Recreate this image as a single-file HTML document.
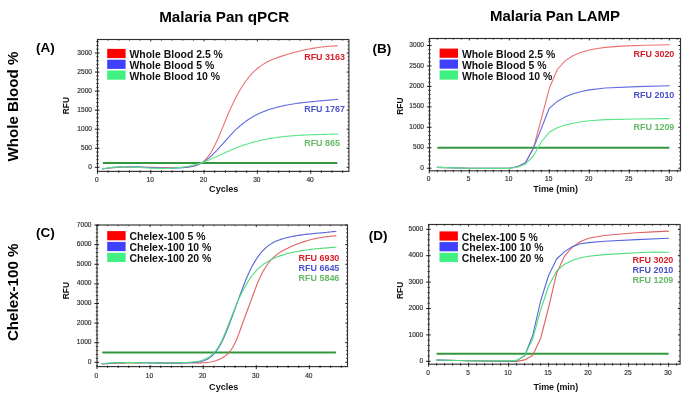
<!DOCTYPE html><html><head><meta charset="utf-8"><style>html,body{margin:0;padding:0;background:#fff;}svg{display:block;filter:blur(0.4px);}text{font-family:"Liberation Sans", sans-serif;}</style></head><body>
<svg width="685" height="396" viewBox="0 0 685 396">
<rect width="685" height="396" fill="#fff"/>
<text x="159.2" y="21.7" font-size="15.2" font-weight="bold" fill="#000">Malaria Pan qPCR</text>
<text x="490.0" y="21.1" font-size="15" font-weight="bold" fill="#000">Malaria Pan LAMP</text>
<text transform="translate(17.9,161.5) rotate(-90)" font-size="15.1" font-weight="bold" fill="#000">Whole Blood %</text>
<text transform="translate(18.3,341.1) rotate(-90)" font-size="15.15" font-weight="bold" fill="#000">Chelex-100 %</text>
<text x="36" y="52.3" font-size="13.5" font-weight="bold" fill="#000">(A)</text>
<text x="372.6" y="52.9" font-size="13.5" font-weight="bold" fill="#000">(B)</text>
<text x="36" y="237" font-size="13.5" font-weight="bold" fill="#000">(C)</text>
<text x="368.8" y="239.9" font-size="13.5" font-weight="bold" fill="#000">(D)</text>
<rect x="97.5" y="39.5" width="251.4" height="131.9" fill="none" stroke="#333" stroke-width="1.15"/>
<path d="M94.9 167.3H99.5 M346.7 167.3H348.9" stroke="#1a1a1a" stroke-width="1.0"/>
<path d="M96.3 163.49H98.7 M347.6 163.49H348.9" stroke="#2a2a2a" stroke-width="0.9"/>
<path d="M96.3 159.68H98.7 M347.6 159.68H348.9" stroke="#2a2a2a" stroke-width="0.9"/>
<path d="M96.3 155.87H98.7 M347.6 155.87H348.9" stroke="#2a2a2a" stroke-width="0.9"/>
<path d="M96.3 152.06H98.7 M347.6 152.06H348.9" stroke="#2a2a2a" stroke-width="0.9"/>
<path d="M94.9 148.25H99.5 M346.7 148.25H348.9" stroke="#1a1a1a" stroke-width="1.0"/>
<path d="M96.3 144.44H98.7 M347.6 144.44H348.9" stroke="#2a2a2a" stroke-width="0.9"/>
<path d="M96.3 140.63H98.7 M347.6 140.63H348.9" stroke="#2a2a2a" stroke-width="0.9"/>
<path d="M96.3 136.82H98.7 M347.6 136.82H348.9" stroke="#2a2a2a" stroke-width="0.9"/>
<path d="M96.3 133.01H98.7 M347.6 133.01H348.9" stroke="#2a2a2a" stroke-width="0.9"/>
<path d="M94.9 129.2H99.5 M346.7 129.2H348.9" stroke="#1a1a1a" stroke-width="1.0"/>
<path d="M96.3 125.39H98.7 M347.6 125.39H348.9" stroke="#2a2a2a" stroke-width="0.9"/>
<path d="M96.3 121.58H98.7 M347.6 121.58H348.9" stroke="#2a2a2a" stroke-width="0.9"/>
<path d="M96.3 117.77H98.7 M347.6 117.77H348.9" stroke="#2a2a2a" stroke-width="0.9"/>
<path d="M96.3 113.96H98.7 M347.6 113.96H348.9" stroke="#2a2a2a" stroke-width="0.9"/>
<path d="M94.9 110.15H99.5 M346.7 110.15H348.9" stroke="#1a1a1a" stroke-width="1.0"/>
<path d="M96.3 106.34H98.7 M347.6 106.34H348.9" stroke="#2a2a2a" stroke-width="0.9"/>
<path d="M96.3 102.53H98.7 M347.6 102.53H348.9" stroke="#2a2a2a" stroke-width="0.9"/>
<path d="M96.3 98.72H98.7 M347.6 98.72H348.9" stroke="#2a2a2a" stroke-width="0.9"/>
<path d="M96.3 94.91H98.7 M347.6 94.91H348.9" stroke="#2a2a2a" stroke-width="0.9"/>
<path d="M94.9 91.1H99.5 M346.7 91.1H348.9" stroke="#1a1a1a" stroke-width="1.0"/>
<path d="M96.3 87.29H98.7 M347.6 87.29H348.9" stroke="#2a2a2a" stroke-width="0.9"/>
<path d="M96.3 83.48H98.7 M347.6 83.48H348.9" stroke="#2a2a2a" stroke-width="0.9"/>
<path d="M96.3 79.67H98.7 M347.6 79.67H348.9" stroke="#2a2a2a" stroke-width="0.9"/>
<path d="M96.3 75.86H98.7 M347.6 75.86H348.9" stroke="#2a2a2a" stroke-width="0.9"/>
<path d="M94.9 72.05H99.5 M346.7 72.05H348.9" stroke="#1a1a1a" stroke-width="1.0"/>
<path d="M96.3 68.24H98.7 M347.6 68.24H348.9" stroke="#2a2a2a" stroke-width="0.9"/>
<path d="M96.3 64.43H98.7 M347.6 64.43H348.9" stroke="#2a2a2a" stroke-width="0.9"/>
<path d="M96.3 60.62H98.7 M347.6 60.62H348.9" stroke="#2a2a2a" stroke-width="0.9"/>
<path d="M96.3 56.81H98.7 M347.6 56.81H348.9" stroke="#2a2a2a" stroke-width="0.9"/>
<path d="M94.9 53H99.5 M346.7 53H348.9" stroke="#1a1a1a" stroke-width="1.0"/>
<path d="M96.3 49.19H98.7 M347.6 49.19H348.9" stroke="#2a2a2a" stroke-width="0.9"/>
<path d="M96.3 45.38H98.7 M347.6 45.38H348.9" stroke="#2a2a2a" stroke-width="0.9"/>
<path d="M96.3 41.57H98.7 M347.6 41.57H348.9" stroke="#2a2a2a" stroke-width="0.9"/>
<path d="M97.5 173.9V169.9 M97.5 39.5V41.5" stroke="#111" stroke-width="0.9"/>
<path d="M108.16 172.9V170.4 M108.16 39.5V40.7" stroke="#111" stroke-width="0.8"/>
<path d="M118.82 172.9V170.4 M118.82 39.5V40.7" stroke="#111" stroke-width="0.8"/>
<path d="M129.48 172.9V170.4 M129.48 39.5V40.7" stroke="#111" stroke-width="0.8"/>
<path d="M140.14 172.9V170.4 M140.14 39.5V40.7" stroke="#111" stroke-width="0.8"/>
<path d="M150.8 173.9V169.9 M150.8 39.5V41.5" stroke="#111" stroke-width="0.9"/>
<path d="M161.46 172.9V170.4 M161.46 39.5V40.7" stroke="#111" stroke-width="0.8"/>
<path d="M172.12 172.9V170.4 M172.12 39.5V40.7" stroke="#111" stroke-width="0.8"/>
<path d="M182.78 172.9V170.4 M182.78 39.5V40.7" stroke="#111" stroke-width="0.8"/>
<path d="M193.44 172.9V170.4 M193.44 39.5V40.7" stroke="#111" stroke-width="0.8"/>
<path d="M204.1 173.9V169.9 M204.1 39.5V41.5" stroke="#111" stroke-width="0.9"/>
<path d="M214.76 172.9V170.4 M214.76 39.5V40.7" stroke="#111" stroke-width="0.8"/>
<path d="M225.42 172.9V170.4 M225.42 39.5V40.7" stroke="#111" stroke-width="0.8"/>
<path d="M236.08 172.9V170.4 M236.08 39.5V40.7" stroke="#111" stroke-width="0.8"/>
<path d="M246.74 172.9V170.4 M246.74 39.5V40.7" stroke="#111" stroke-width="0.8"/>
<path d="M257.4 173.9V169.9 M257.4 39.5V41.5" stroke="#111" stroke-width="0.9"/>
<path d="M268.06 172.9V170.4 M268.06 39.5V40.7" stroke="#111" stroke-width="0.8"/>
<path d="M278.72 172.9V170.4 M278.72 39.5V40.7" stroke="#111" stroke-width="0.8"/>
<path d="M289.38 172.9V170.4 M289.38 39.5V40.7" stroke="#111" stroke-width="0.8"/>
<path d="M300.04 172.9V170.4 M300.04 39.5V40.7" stroke="#111" stroke-width="0.8"/>
<path d="M310.7 173.9V169.9 M310.7 39.5V41.5" stroke="#111" stroke-width="0.9"/>
<path d="M321.36 172.9V170.4 M321.36 39.5V40.7" stroke="#111" stroke-width="0.8"/>
<path d="M332.02 172.9V170.4 M332.02 39.5V40.7" stroke="#111" stroke-width="0.8"/>
<path d="M342.68 172.9V170.4 M342.68 39.5V40.7" stroke="#111" stroke-width="0.8"/>
<text x="92" y="168.9" font-size="6.6" fill="#2a2a2a" stroke="#2a2a2a" stroke-width="0.15" text-anchor="end">0</text>
<text x="92" y="149.85" font-size="6.6" fill="#2a2a2a" stroke="#2a2a2a" stroke-width="0.15" text-anchor="end">500</text>
<text x="92" y="130.8" font-size="6.6" fill="#2a2a2a" stroke="#2a2a2a" stroke-width="0.15" text-anchor="end">1000</text>
<text x="92" y="111.75" font-size="6.6" fill="#2a2a2a" stroke="#2a2a2a" stroke-width="0.15" text-anchor="end">1500</text>
<text x="92" y="92.7" font-size="6.6" fill="#2a2a2a" stroke="#2a2a2a" stroke-width="0.15" text-anchor="end">2000</text>
<text x="92" y="73.65" font-size="6.6" fill="#2a2a2a" stroke="#2a2a2a" stroke-width="0.15" text-anchor="end">2500</text>
<text x="92" y="54.6" font-size="6.6" fill="#2a2a2a" stroke="#2a2a2a" stroke-width="0.15" text-anchor="end">3000</text>
<text x="96.9" y="181.5" font-size="6.6" fill="#2a2a2a" stroke="#2a2a2a" stroke-width="0.15" text-anchor="middle">0</text>
<text x="150.2" y="181.5" font-size="6.6" fill="#2a2a2a" stroke="#2a2a2a" stroke-width="0.15" text-anchor="middle">10</text>
<text x="203.5" y="181.5" font-size="6.6" fill="#2a2a2a" stroke="#2a2a2a" stroke-width="0.15" text-anchor="middle">20</text>
<text x="256.8" y="181.5" font-size="6.6" fill="#2a2a2a" stroke="#2a2a2a" stroke-width="0.15" text-anchor="middle">30</text>
<text x="310.1" y="181.5" font-size="6.6" fill="#2a2a2a" stroke="#2a2a2a" stroke-width="0.15" text-anchor="middle">40</text>
<rect x="429.5" y="38.5" width="251" height="132.3" fill="none" stroke="#333" stroke-width="1.15"/>
<path d="M426.9 168.2H431.5 M678.3 168.2H680.5" stroke="#1a1a1a" stroke-width="1.0"/>
<path d="M428.3 164.11H430.7 M679.2 164.11H680.5" stroke="#2a2a2a" stroke-width="0.9"/>
<path d="M428.3 160.02H430.7 M679.2 160.02H680.5" stroke="#2a2a2a" stroke-width="0.9"/>
<path d="M428.3 155.93H430.7 M679.2 155.93H680.5" stroke="#2a2a2a" stroke-width="0.9"/>
<path d="M428.3 151.84H430.7 M679.2 151.84H680.5" stroke="#2a2a2a" stroke-width="0.9"/>
<path d="M426.9 147.75H431.5 M678.3 147.75H680.5" stroke="#1a1a1a" stroke-width="1.0"/>
<path d="M428.3 143.66H430.7 M679.2 143.66H680.5" stroke="#2a2a2a" stroke-width="0.9"/>
<path d="M428.3 139.57H430.7 M679.2 139.57H680.5" stroke="#2a2a2a" stroke-width="0.9"/>
<path d="M428.3 135.48H430.7 M679.2 135.48H680.5" stroke="#2a2a2a" stroke-width="0.9"/>
<path d="M428.3 131.39H430.7 M679.2 131.39H680.5" stroke="#2a2a2a" stroke-width="0.9"/>
<path d="M426.9 127.3H431.5 M678.3 127.3H680.5" stroke="#1a1a1a" stroke-width="1.0"/>
<path d="M428.3 123.21H430.7 M679.2 123.21H680.5" stroke="#2a2a2a" stroke-width="0.9"/>
<path d="M428.3 119.12H430.7 M679.2 119.12H680.5" stroke="#2a2a2a" stroke-width="0.9"/>
<path d="M428.3 115.03H430.7 M679.2 115.03H680.5" stroke="#2a2a2a" stroke-width="0.9"/>
<path d="M428.3 110.94H430.7 M679.2 110.94H680.5" stroke="#2a2a2a" stroke-width="0.9"/>
<path d="M426.9 106.85H431.5 M678.3 106.85H680.5" stroke="#1a1a1a" stroke-width="1.0"/>
<path d="M428.3 102.76H430.7 M679.2 102.76H680.5" stroke="#2a2a2a" stroke-width="0.9"/>
<path d="M428.3 98.67H430.7 M679.2 98.67H680.5" stroke="#2a2a2a" stroke-width="0.9"/>
<path d="M428.3 94.58H430.7 M679.2 94.58H680.5" stroke="#2a2a2a" stroke-width="0.9"/>
<path d="M428.3 90.49H430.7 M679.2 90.49H680.5" stroke="#2a2a2a" stroke-width="0.9"/>
<path d="M426.9 86.4H431.5 M678.3 86.4H680.5" stroke="#1a1a1a" stroke-width="1.0"/>
<path d="M428.3 82.31H430.7 M679.2 82.31H680.5" stroke="#2a2a2a" stroke-width="0.9"/>
<path d="M428.3 78.22H430.7 M679.2 78.22H680.5" stroke="#2a2a2a" stroke-width="0.9"/>
<path d="M428.3 74.13H430.7 M679.2 74.13H680.5" stroke="#2a2a2a" stroke-width="0.9"/>
<path d="M428.3 70.04H430.7 M679.2 70.04H680.5" stroke="#2a2a2a" stroke-width="0.9"/>
<path d="M426.9 65.95H431.5 M678.3 65.95H680.5" stroke="#1a1a1a" stroke-width="1.0"/>
<path d="M428.3 61.86H430.7 M679.2 61.86H680.5" stroke="#2a2a2a" stroke-width="0.9"/>
<path d="M428.3 57.77H430.7 M679.2 57.77H680.5" stroke="#2a2a2a" stroke-width="0.9"/>
<path d="M428.3 53.68H430.7 M679.2 53.68H680.5" stroke="#2a2a2a" stroke-width="0.9"/>
<path d="M428.3 49.59H430.7 M679.2 49.59H680.5" stroke="#2a2a2a" stroke-width="0.9"/>
<path d="M426.9 45.5H431.5 M678.3 45.5H680.5" stroke="#1a1a1a" stroke-width="1.0"/>
<path d="M428.3 41.41H430.7 M679.2 41.41H680.5" stroke="#2a2a2a" stroke-width="0.9"/>
<path d="M429.3 173.3V169.3 M429.3 38.5V40.5" stroke="#111" stroke-width="0.9"/>
<path d="M437.3 172.3V169.8 M437.3 38.5V39.7" stroke="#111" stroke-width="0.8"/>
<path d="M445.3 172.3V169.8 M445.3 38.5V39.7" stroke="#111" stroke-width="0.8"/>
<path d="M453.3 172.3V169.8 M453.3 38.5V39.7" stroke="#111" stroke-width="0.8"/>
<path d="M461.3 172.3V169.8 M461.3 38.5V39.7" stroke="#111" stroke-width="0.8"/>
<path d="M469.3 173.3V169.3 M469.3 38.5V40.5" stroke="#111" stroke-width="0.9"/>
<path d="M477.3 172.3V169.8 M477.3 38.5V39.7" stroke="#111" stroke-width="0.8"/>
<path d="M485.3 172.3V169.8 M485.3 38.5V39.7" stroke="#111" stroke-width="0.8"/>
<path d="M493.3 172.3V169.8 M493.3 38.5V39.7" stroke="#111" stroke-width="0.8"/>
<path d="M501.3 172.3V169.8 M501.3 38.5V39.7" stroke="#111" stroke-width="0.8"/>
<path d="M509.3 173.3V169.3 M509.3 38.5V40.5" stroke="#111" stroke-width="0.9"/>
<path d="M517.3 172.3V169.8 M517.3 38.5V39.7" stroke="#111" stroke-width="0.8"/>
<path d="M525.3 172.3V169.8 M525.3 38.5V39.7" stroke="#111" stroke-width="0.8"/>
<path d="M533.3 172.3V169.8 M533.3 38.5V39.7" stroke="#111" stroke-width="0.8"/>
<path d="M541.3 172.3V169.8 M541.3 38.5V39.7" stroke="#111" stroke-width="0.8"/>
<path d="M549.3 173.3V169.3 M549.3 38.5V40.5" stroke="#111" stroke-width="0.9"/>
<path d="M557.3 172.3V169.8 M557.3 38.5V39.7" stroke="#111" stroke-width="0.8"/>
<path d="M565.3 172.3V169.8 M565.3 38.5V39.7" stroke="#111" stroke-width="0.8"/>
<path d="M573.3 172.3V169.8 M573.3 38.5V39.7" stroke="#111" stroke-width="0.8"/>
<path d="M581.3 172.3V169.8 M581.3 38.5V39.7" stroke="#111" stroke-width="0.8"/>
<path d="M589.3 173.3V169.3 M589.3 38.5V40.5" stroke="#111" stroke-width="0.9"/>
<path d="M597.3 172.3V169.8 M597.3 38.5V39.7" stroke="#111" stroke-width="0.8"/>
<path d="M605.3 172.3V169.8 M605.3 38.5V39.7" stroke="#111" stroke-width="0.8"/>
<path d="M613.3 172.3V169.8 M613.3 38.5V39.7" stroke="#111" stroke-width="0.8"/>
<path d="M621.3 172.3V169.8 M621.3 38.5V39.7" stroke="#111" stroke-width="0.8"/>
<path d="M629.3 173.3V169.3 M629.3 38.5V40.5" stroke="#111" stroke-width="0.9"/>
<path d="M637.3 172.3V169.8 M637.3 38.5V39.7" stroke="#111" stroke-width="0.8"/>
<path d="M645.3 172.3V169.8 M645.3 38.5V39.7" stroke="#111" stroke-width="0.8"/>
<path d="M653.3 172.3V169.8 M653.3 38.5V39.7" stroke="#111" stroke-width="0.8"/>
<path d="M661.3 172.3V169.8 M661.3 38.5V39.7" stroke="#111" stroke-width="0.8"/>
<path d="M669.3 173.3V169.3 M669.3 38.5V40.5" stroke="#111" stroke-width="0.9"/>
<path d="M677.3 172.3V169.8 M677.3 38.5V39.7" stroke="#111" stroke-width="0.8"/>
<text x="424" y="169.8" font-size="6.6" fill="#2a2a2a" stroke="#2a2a2a" stroke-width="0.15" text-anchor="end">0</text>
<text x="424" y="149.35" font-size="6.6" fill="#2a2a2a" stroke="#2a2a2a" stroke-width="0.15" text-anchor="end">500</text>
<text x="424" y="128.9" font-size="6.6" fill="#2a2a2a" stroke="#2a2a2a" stroke-width="0.15" text-anchor="end">1000</text>
<text x="424" y="108.45" font-size="6.6" fill="#2a2a2a" stroke="#2a2a2a" stroke-width="0.15" text-anchor="end">1500</text>
<text x="424" y="88" font-size="6.6" fill="#2a2a2a" stroke="#2a2a2a" stroke-width="0.15" text-anchor="end">2000</text>
<text x="424" y="67.55" font-size="6.6" fill="#2a2a2a" stroke="#2a2a2a" stroke-width="0.15" text-anchor="end">2500</text>
<text x="424" y="47.1" font-size="6.6" fill="#2a2a2a" stroke="#2a2a2a" stroke-width="0.15" text-anchor="end">3000</text>
<text x="428.7" y="181.4" font-size="6.6" fill="#2a2a2a" stroke="#2a2a2a" stroke-width="0.15" text-anchor="middle">0</text>
<text x="468.7" y="181.4" font-size="6.6" fill="#2a2a2a" stroke="#2a2a2a" stroke-width="0.15" text-anchor="middle">5</text>
<text x="508.7" y="181.4" font-size="6.6" fill="#2a2a2a" stroke="#2a2a2a" stroke-width="0.15" text-anchor="middle">10</text>
<text x="548.7" y="181.4" font-size="6.6" fill="#2a2a2a" stroke="#2a2a2a" stroke-width="0.15" text-anchor="middle">15</text>
<text x="588.7" y="181.4" font-size="6.6" fill="#2a2a2a" stroke="#2a2a2a" stroke-width="0.15" text-anchor="middle">20</text>
<text x="628.7" y="181.4" font-size="6.6" fill="#2a2a2a" stroke="#2a2a2a" stroke-width="0.15" text-anchor="middle">25</text>
<text x="668.7" y="181.4" font-size="6.6" fill="#2a2a2a" stroke="#2a2a2a" stroke-width="0.15" text-anchor="middle">30</text>
<rect x="97" y="225" width="250.5" height="141.6" fill="none" stroke="#333" stroke-width="1.15"/>
<path d="M94.4 362.3H99 M345.3 362.3H347.5" stroke="#1a1a1a" stroke-width="1.0"/>
<path d="M95.8 358.38H98.2 M346.2 358.38H347.5" stroke="#2a2a2a" stroke-width="0.9"/>
<path d="M95.8 354.46H98.2 M346.2 354.46H347.5" stroke="#2a2a2a" stroke-width="0.9"/>
<path d="M95.8 350.53H98.2 M346.2 350.53H347.5" stroke="#2a2a2a" stroke-width="0.9"/>
<path d="M95.8 346.61H98.2 M346.2 346.61H347.5" stroke="#2a2a2a" stroke-width="0.9"/>
<path d="M94.4 342.69H99 M345.3 342.69H347.5" stroke="#1a1a1a" stroke-width="1.0"/>
<path d="M95.8 338.77H98.2 M346.2 338.77H347.5" stroke="#2a2a2a" stroke-width="0.9"/>
<path d="M95.8 334.85H98.2 M346.2 334.85H347.5" stroke="#2a2a2a" stroke-width="0.9"/>
<path d="M95.8 330.92H98.2 M346.2 330.92H347.5" stroke="#2a2a2a" stroke-width="0.9"/>
<path d="M95.8 327H98.2 M346.2 327H347.5" stroke="#2a2a2a" stroke-width="0.9"/>
<path d="M94.4 323.08H99 M345.3 323.08H347.5" stroke="#1a1a1a" stroke-width="1.0"/>
<path d="M95.8 319.16H98.2 M346.2 319.16H347.5" stroke="#2a2a2a" stroke-width="0.9"/>
<path d="M95.8 315.24H98.2 M346.2 315.24H347.5" stroke="#2a2a2a" stroke-width="0.9"/>
<path d="M95.8 311.31H98.2 M346.2 311.31H347.5" stroke="#2a2a2a" stroke-width="0.9"/>
<path d="M95.8 307.39H98.2 M346.2 307.39H347.5" stroke="#2a2a2a" stroke-width="0.9"/>
<path d="M94.4 303.47H99 M345.3 303.47H347.5" stroke="#1a1a1a" stroke-width="1.0"/>
<path d="M95.8 299.55H98.2 M346.2 299.55H347.5" stroke="#2a2a2a" stroke-width="0.9"/>
<path d="M95.8 295.63H98.2 M346.2 295.63H347.5" stroke="#2a2a2a" stroke-width="0.9"/>
<path d="M95.8 291.7H98.2 M346.2 291.7H347.5" stroke="#2a2a2a" stroke-width="0.9"/>
<path d="M95.8 287.78H98.2 M346.2 287.78H347.5" stroke="#2a2a2a" stroke-width="0.9"/>
<path d="M94.4 283.86H99 M345.3 283.86H347.5" stroke="#1a1a1a" stroke-width="1.0"/>
<path d="M95.8 279.94H98.2 M346.2 279.94H347.5" stroke="#2a2a2a" stroke-width="0.9"/>
<path d="M95.8 276.02H98.2 M346.2 276.02H347.5" stroke="#2a2a2a" stroke-width="0.9"/>
<path d="M95.8 272.09H98.2 M346.2 272.09H347.5" stroke="#2a2a2a" stroke-width="0.9"/>
<path d="M95.8 268.17H98.2 M346.2 268.17H347.5" stroke="#2a2a2a" stroke-width="0.9"/>
<path d="M94.4 264.25H99 M345.3 264.25H347.5" stroke="#1a1a1a" stroke-width="1.0"/>
<path d="M95.8 260.33H98.2 M346.2 260.33H347.5" stroke="#2a2a2a" stroke-width="0.9"/>
<path d="M95.8 256.41H98.2 M346.2 256.41H347.5" stroke="#2a2a2a" stroke-width="0.9"/>
<path d="M95.8 252.48H98.2 M346.2 252.48H347.5" stroke="#2a2a2a" stroke-width="0.9"/>
<path d="M95.8 248.56H98.2 M346.2 248.56H347.5" stroke="#2a2a2a" stroke-width="0.9"/>
<path d="M94.4 244.64H99 M345.3 244.64H347.5" stroke="#1a1a1a" stroke-width="1.0"/>
<path d="M95.8 240.72H98.2 M346.2 240.72H347.5" stroke="#2a2a2a" stroke-width="0.9"/>
<path d="M95.8 236.8H98.2 M346.2 236.8H347.5" stroke="#2a2a2a" stroke-width="0.9"/>
<path d="M95.8 232.87H98.2 M346.2 232.87H347.5" stroke="#2a2a2a" stroke-width="0.9"/>
<path d="M95.8 228.95H98.2 M346.2 228.95H347.5" stroke="#2a2a2a" stroke-width="0.9"/>
<path d="M94.4 225.03H99 M345.3 225.03H347.5" stroke="#1a1a1a" stroke-width="1.0"/>
<path d="M97 369.1V365.1 M97 225V227" stroke="#111" stroke-width="0.9"/>
<path d="M107.62 368.1V365.6 M107.62 225V226.2" stroke="#111" stroke-width="0.8"/>
<path d="M118.24 368.1V365.6 M118.24 225V226.2" stroke="#111" stroke-width="0.8"/>
<path d="M128.86 368.1V365.6 M128.86 225V226.2" stroke="#111" stroke-width="0.8"/>
<path d="M139.48 368.1V365.6 M139.48 225V226.2" stroke="#111" stroke-width="0.8"/>
<path d="M150.1 369.1V365.1 M150.1 225V227" stroke="#111" stroke-width="0.9"/>
<path d="M160.72 368.1V365.6 M160.72 225V226.2" stroke="#111" stroke-width="0.8"/>
<path d="M171.34 368.1V365.6 M171.34 225V226.2" stroke="#111" stroke-width="0.8"/>
<path d="M181.96 368.1V365.6 M181.96 225V226.2" stroke="#111" stroke-width="0.8"/>
<path d="M192.58 368.1V365.6 M192.58 225V226.2" stroke="#111" stroke-width="0.8"/>
<path d="M203.2 369.1V365.1 M203.2 225V227" stroke="#111" stroke-width="0.9"/>
<path d="M213.82 368.1V365.6 M213.82 225V226.2" stroke="#111" stroke-width="0.8"/>
<path d="M224.44 368.1V365.6 M224.44 225V226.2" stroke="#111" stroke-width="0.8"/>
<path d="M235.06 368.1V365.6 M235.06 225V226.2" stroke="#111" stroke-width="0.8"/>
<path d="M245.68 368.1V365.6 M245.68 225V226.2" stroke="#111" stroke-width="0.8"/>
<path d="M256.3 369.1V365.1 M256.3 225V227" stroke="#111" stroke-width="0.9"/>
<path d="M266.92 368.1V365.6 M266.92 225V226.2" stroke="#111" stroke-width="0.8"/>
<path d="M277.54 368.1V365.6 M277.54 225V226.2" stroke="#111" stroke-width="0.8"/>
<path d="M288.16 368.1V365.6 M288.16 225V226.2" stroke="#111" stroke-width="0.8"/>
<path d="M298.78 368.1V365.6 M298.78 225V226.2" stroke="#111" stroke-width="0.8"/>
<path d="M309.4 369.1V365.1 M309.4 225V227" stroke="#111" stroke-width="0.9"/>
<path d="M320.02 368.1V365.6 M320.02 225V226.2" stroke="#111" stroke-width="0.8"/>
<path d="M330.64 368.1V365.6 M330.64 225V226.2" stroke="#111" stroke-width="0.8"/>
<path d="M341.26 368.1V365.6 M341.26 225V226.2" stroke="#111" stroke-width="0.8"/>
<text x="91.5" y="363.9" font-size="6.6" fill="#2a2a2a" stroke="#2a2a2a" stroke-width="0.15" text-anchor="end">0</text>
<text x="91.5" y="344.29" font-size="6.6" fill="#2a2a2a" stroke="#2a2a2a" stroke-width="0.15" text-anchor="end">1000</text>
<text x="91.5" y="324.68" font-size="6.6" fill="#2a2a2a" stroke="#2a2a2a" stroke-width="0.15" text-anchor="end">2000</text>
<text x="91.5" y="305.07" font-size="6.6" fill="#2a2a2a" stroke="#2a2a2a" stroke-width="0.15" text-anchor="end">3000</text>
<text x="91.5" y="285.46" font-size="6.6" fill="#2a2a2a" stroke="#2a2a2a" stroke-width="0.15" text-anchor="end">4000</text>
<text x="91.5" y="265.85" font-size="6.6" fill="#2a2a2a" stroke="#2a2a2a" stroke-width="0.15" text-anchor="end">5000</text>
<text x="91.5" y="246.24" font-size="6.6" fill="#2a2a2a" stroke="#2a2a2a" stroke-width="0.15" text-anchor="end">6000</text>
<text x="91.5" y="226.63" font-size="6.6" fill="#2a2a2a" stroke="#2a2a2a" stroke-width="0.15" text-anchor="end">7000</text>
<text x="96.4" y="378" font-size="6.6" fill="#2a2a2a" stroke="#2a2a2a" stroke-width="0.15" text-anchor="middle">0</text>
<text x="149.5" y="378" font-size="6.6" fill="#2a2a2a" stroke="#2a2a2a" stroke-width="0.15" text-anchor="middle">10</text>
<text x="202.6" y="378" font-size="6.6" fill="#2a2a2a" stroke="#2a2a2a" stroke-width="0.15" text-anchor="middle">20</text>
<text x="255.7" y="378" font-size="6.6" fill="#2a2a2a" stroke="#2a2a2a" stroke-width="0.15" text-anchor="middle">30</text>
<text x="308.8" y="378" font-size="6.6" fill="#2a2a2a" stroke="#2a2a2a" stroke-width="0.15" text-anchor="middle">40</text>
<rect x="428.7" y="224.5" width="251.4" height="139.7" fill="none" stroke="#333" stroke-width="1.15"/>
<path d="M426.1 361.3H430.7 M677.9 361.3H680.1" stroke="#1a1a1a" stroke-width="1.0"/>
<path d="M427.5 356.02H429.9 M678.8 356.02H680.1" stroke="#2a2a2a" stroke-width="0.9"/>
<path d="M427.5 350.74H429.9 M678.8 350.74H680.1" stroke="#2a2a2a" stroke-width="0.9"/>
<path d="M427.5 345.46H429.9 M678.8 345.46H680.1" stroke="#2a2a2a" stroke-width="0.9"/>
<path d="M427.5 340.18H429.9 M678.8 340.18H680.1" stroke="#2a2a2a" stroke-width="0.9"/>
<path d="M426.1 334.9H430.7 M677.9 334.9H680.1" stroke="#1a1a1a" stroke-width="1.0"/>
<path d="M427.5 329.62H429.9 M678.8 329.62H680.1" stroke="#2a2a2a" stroke-width="0.9"/>
<path d="M427.5 324.34H429.9 M678.8 324.34H680.1" stroke="#2a2a2a" stroke-width="0.9"/>
<path d="M427.5 319.06H429.9 M678.8 319.06H680.1" stroke="#2a2a2a" stroke-width="0.9"/>
<path d="M427.5 313.78H429.9 M678.8 313.78H680.1" stroke="#2a2a2a" stroke-width="0.9"/>
<path d="M426.1 308.5H430.7 M677.9 308.5H680.1" stroke="#1a1a1a" stroke-width="1.0"/>
<path d="M427.5 303.22H429.9 M678.8 303.22H680.1" stroke="#2a2a2a" stroke-width="0.9"/>
<path d="M427.5 297.94H429.9 M678.8 297.94H680.1" stroke="#2a2a2a" stroke-width="0.9"/>
<path d="M427.5 292.66H429.9 M678.8 292.66H680.1" stroke="#2a2a2a" stroke-width="0.9"/>
<path d="M427.5 287.38H429.9 M678.8 287.38H680.1" stroke="#2a2a2a" stroke-width="0.9"/>
<path d="M426.1 282.1H430.7 M677.9 282.1H680.1" stroke="#1a1a1a" stroke-width="1.0"/>
<path d="M427.5 276.82H429.9 M678.8 276.82H680.1" stroke="#2a2a2a" stroke-width="0.9"/>
<path d="M427.5 271.54H429.9 M678.8 271.54H680.1" stroke="#2a2a2a" stroke-width="0.9"/>
<path d="M427.5 266.26H429.9 M678.8 266.26H680.1" stroke="#2a2a2a" stroke-width="0.9"/>
<path d="M427.5 260.98H429.9 M678.8 260.98H680.1" stroke="#2a2a2a" stroke-width="0.9"/>
<path d="M426.1 255.7H430.7 M677.9 255.7H680.1" stroke="#1a1a1a" stroke-width="1.0"/>
<path d="M427.5 250.42H429.9 M678.8 250.42H680.1" stroke="#2a2a2a" stroke-width="0.9"/>
<path d="M427.5 245.14H429.9 M678.8 245.14H680.1" stroke="#2a2a2a" stroke-width="0.9"/>
<path d="M427.5 239.86H429.9 M678.8 239.86H680.1" stroke="#2a2a2a" stroke-width="0.9"/>
<path d="M427.5 234.58H429.9 M678.8 234.58H680.1" stroke="#2a2a2a" stroke-width="0.9"/>
<path d="M426.1 229.3H430.7 M677.9 229.3H680.1" stroke="#1a1a1a" stroke-width="1.0"/>
<path d="M428.6 366.7V362.7 M428.6 224.5V226.5" stroke="#111" stroke-width="0.9"/>
<path d="M436.6 365.7V363.2 M436.6 224.5V225.7" stroke="#111" stroke-width="0.8"/>
<path d="M444.6 365.7V363.2 M444.6 224.5V225.7" stroke="#111" stroke-width="0.8"/>
<path d="M452.6 365.7V363.2 M452.6 224.5V225.7" stroke="#111" stroke-width="0.8"/>
<path d="M460.6 365.7V363.2 M460.6 224.5V225.7" stroke="#111" stroke-width="0.8"/>
<path d="M468.6 366.7V362.7 M468.6 224.5V226.5" stroke="#111" stroke-width="0.9"/>
<path d="M476.6 365.7V363.2 M476.6 224.5V225.7" stroke="#111" stroke-width="0.8"/>
<path d="M484.6 365.7V363.2 M484.6 224.5V225.7" stroke="#111" stroke-width="0.8"/>
<path d="M492.6 365.7V363.2 M492.6 224.5V225.7" stroke="#111" stroke-width="0.8"/>
<path d="M500.6 365.7V363.2 M500.6 224.5V225.7" stroke="#111" stroke-width="0.8"/>
<path d="M508.6 366.7V362.7 M508.6 224.5V226.5" stroke="#111" stroke-width="0.9"/>
<path d="M516.6 365.7V363.2 M516.6 224.5V225.7" stroke="#111" stroke-width="0.8"/>
<path d="M524.6 365.7V363.2 M524.6 224.5V225.7" stroke="#111" stroke-width="0.8"/>
<path d="M532.6 365.7V363.2 M532.6 224.5V225.7" stroke="#111" stroke-width="0.8"/>
<path d="M540.6 365.7V363.2 M540.6 224.5V225.7" stroke="#111" stroke-width="0.8"/>
<path d="M548.6 366.7V362.7 M548.6 224.5V226.5" stroke="#111" stroke-width="0.9"/>
<path d="M556.6 365.7V363.2 M556.6 224.5V225.7" stroke="#111" stroke-width="0.8"/>
<path d="M564.6 365.7V363.2 M564.6 224.5V225.7" stroke="#111" stroke-width="0.8"/>
<path d="M572.6 365.7V363.2 M572.6 224.5V225.7" stroke="#111" stroke-width="0.8"/>
<path d="M580.6 365.7V363.2 M580.6 224.5V225.7" stroke="#111" stroke-width="0.8"/>
<path d="M588.6 366.7V362.7 M588.6 224.5V226.5" stroke="#111" stroke-width="0.9"/>
<path d="M596.6 365.7V363.2 M596.6 224.5V225.7" stroke="#111" stroke-width="0.8"/>
<path d="M604.6 365.7V363.2 M604.6 224.5V225.7" stroke="#111" stroke-width="0.8"/>
<path d="M612.6 365.7V363.2 M612.6 224.5V225.7" stroke="#111" stroke-width="0.8"/>
<path d="M620.6 365.7V363.2 M620.6 224.5V225.7" stroke="#111" stroke-width="0.8"/>
<path d="M628.6 366.7V362.7 M628.6 224.5V226.5" stroke="#111" stroke-width="0.9"/>
<path d="M636.6 365.7V363.2 M636.6 224.5V225.7" stroke="#111" stroke-width="0.8"/>
<path d="M644.6 365.7V363.2 M644.6 224.5V225.7" stroke="#111" stroke-width="0.8"/>
<path d="M652.6 365.7V363.2 M652.6 224.5V225.7" stroke="#111" stroke-width="0.8"/>
<path d="M660.6 365.7V363.2 M660.6 224.5V225.7" stroke="#111" stroke-width="0.8"/>
<path d="M668.6 366.7V362.7 M668.6 224.5V226.5" stroke="#111" stroke-width="0.9"/>
<path d="M676.6 365.7V363.2 M676.6 224.5V225.7" stroke="#111" stroke-width="0.8"/>
<text x="423.2" y="362.9" font-size="6.6" fill="#2a2a2a" stroke="#2a2a2a" stroke-width="0.15" text-anchor="end">0</text>
<text x="423.2" y="336.5" font-size="6.6" fill="#2a2a2a" stroke="#2a2a2a" stroke-width="0.15" text-anchor="end">1000</text>
<text x="423.2" y="310.1" font-size="6.6" fill="#2a2a2a" stroke="#2a2a2a" stroke-width="0.15" text-anchor="end">2000</text>
<text x="423.2" y="283.7" font-size="6.6" fill="#2a2a2a" stroke="#2a2a2a" stroke-width="0.15" text-anchor="end">3000</text>
<text x="423.2" y="257.3" font-size="6.6" fill="#2a2a2a" stroke="#2a2a2a" stroke-width="0.15" text-anchor="end">4000</text>
<text x="423.2" y="230.9" font-size="6.6" fill="#2a2a2a" stroke="#2a2a2a" stroke-width="0.15" text-anchor="end">5000</text>
<text x="428" y="375.2" font-size="6.6" fill="#2a2a2a" stroke="#2a2a2a" stroke-width="0.15" text-anchor="middle">0</text>
<text x="468" y="375.2" font-size="6.6" fill="#2a2a2a" stroke="#2a2a2a" stroke-width="0.15" text-anchor="middle">5</text>
<text x="508" y="375.2" font-size="6.6" fill="#2a2a2a" stroke="#2a2a2a" stroke-width="0.15" text-anchor="middle">10</text>
<text x="548" y="375.2" font-size="6.6" fill="#2a2a2a" stroke="#2a2a2a" stroke-width="0.15" text-anchor="middle">15</text>
<text x="588" y="375.2" font-size="6.6" fill="#2a2a2a" stroke="#2a2a2a" stroke-width="0.15" text-anchor="middle">20</text>
<text x="628" y="375.2" font-size="6.6" fill="#2a2a2a" stroke="#2a2a2a" stroke-width="0.15" text-anchor="middle">25</text>
<text x="668" y="375.2" font-size="6.6" fill="#2a2a2a" stroke="#2a2a2a" stroke-width="0.15" text-anchor="middle">30</text>
<text transform="translate(69.3,114.3) rotate(-90) scale(0.86,1)" font-size="9.8" font-weight="bold" fill="#111">RFU</text>
<text transform="translate(402.8,114.8) rotate(-90) scale(0.86,1)" font-size="9.8" font-weight="bold" fill="#111">RFU</text>
<text transform="translate(69.3,299.3) rotate(-90) scale(0.86,1)" font-size="9.8" font-weight="bold" fill="#111">RFU</text>
<text transform="translate(402.8,299.0) rotate(-90) scale(0.86,1)" font-size="9.8" font-weight="bold" fill="#111">RFU</text>
<text x="209.1" y="192" font-size="9.1" font-weight="bold" fill="#111">Cycles</text>
<text x="533.2" y="192.2" font-size="8.9" font-weight="bold" fill="#111">Time (min)</text>
<text x="209.1" y="389.8" font-size="9.1" font-weight="bold" fill="#111">Cycles</text>
<text x="533.5" y="389.8" font-size="8.9" font-weight="bold" fill="#111">Time (min)</text>
<rect x="107.2" y="48.9" width="18.4" height="9.2" fill="#ff0000"/>
<text x="129.5" y="58.1" font-size="10.45" font-weight="bold" fill="#111">Whole Blood 2.5 %</text>
<rect x="107.2" y="59.7" width="18.4" height="9.2" fill="#4040ff"/>
<text x="129.5" y="68.9" font-size="10.45" font-weight="bold" fill="#111">Whole Blood 5 %</text>
<rect x="107.2" y="70.5" width="18.4" height="9.2" fill="#40f080"/>
<text x="129.5" y="79.7" font-size="10.45" font-weight="bold" fill="#111">Whole Blood 10 %</text>
<rect x="439.6" y="48.6" width="18.4" height="9.2" fill="#ff0000"/>
<text x="461.9" y="57.8" font-size="10.45" font-weight="bold" fill="#111">Whole Blood 2.5 %</text>
<rect x="439.6" y="59.5" width="18.4" height="9.2" fill="#4040ff"/>
<text x="461.9" y="68.7" font-size="10.45" font-weight="bold" fill="#111">Whole Blood 5 %</text>
<rect x="439.6" y="70.4" width="18.4" height="9.2" fill="#40f080"/>
<text x="461.9" y="79.6" font-size="10.45" font-weight="bold" fill="#111">Whole Blood 10 %</text>
<rect x="107.2" y="231.1" width="18.4" height="9.2" fill="#ff0000"/>
<text x="129.5" y="240.3" font-size="10.45" font-weight="bold" fill="#111">Chelex-100 5 %</text>
<rect x="107.2" y="241.9" width="18.4" height="9.2" fill="#4040ff"/>
<text x="129.5" y="251.1" font-size="10.45" font-weight="bold" fill="#111">Chelex-100 10 %</text>
<rect x="107.2" y="252.8" width="18.4" height="9.2" fill="#40f080"/>
<text x="129.5" y="262" font-size="10.45" font-weight="bold" fill="#111">Chelex-100 20 %</text>
<rect x="439.5" y="231.4" width="18.4" height="9.2" fill="#ff0000"/>
<text x="461.8" y="240.6" font-size="10.45" font-weight="bold" fill="#111">Chelex-100 5 %</text>
<rect x="439.5" y="242.1" width="18.4" height="9.2" fill="#4040ff"/>
<text x="461.8" y="251.3" font-size="10.45" font-weight="bold" fill="#111">Chelex-100 10 %</text>
<rect x="439.5" y="252.8" width="18.4" height="9.2" fill="#40f080"/>
<text x="461.8" y="262" font-size="10.45" font-weight="bold" fill="#111">Chelex-100 20 %</text>
<text x="304.2" y="59.6" font-size="8.95" font-weight="bold" fill="#d81e28">RFU 3163</text>
<text x="304.2" y="112.4" font-size="8.95" font-weight="bold" fill="#4a52cc">RFU 1767</text>
<text x="304.2" y="146.1" font-size="8.95" font-weight="bold" fill="#66b866">RFU 865</text>
<text x="633.6" y="56.9" font-size="8.95" font-weight="bold" fill="#d81e28">RFU 3020</text>
<text x="633.6" y="97.7" font-size="8.95" font-weight="bold" fill="#4a52cc">RFU 2010</text>
<text x="633.6" y="129.5" font-size="8.95" font-weight="bold" fill="#66b866">RFU 1209</text>
<text x="298.6" y="260.6" font-size="8.95" font-weight="bold" fill="#d81e28">RFU 6930</text>
<text x="298.6" y="270.7" font-size="8.95" font-weight="bold" fill="#4a52cc">RFU 6645</text>
<text x="298.6" y="280.7" font-size="8.95" font-weight="bold" fill="#66b866">RFU 5846</text>
<text x="632.6" y="262.7" font-size="8.95" font-weight="bold" fill="#d81e28">RFU 3020</text>
<text x="632.6" y="272.8" font-size="8.95" font-weight="bold" fill="#4a52cc">RFU 2010</text>
<text x="632.6" y="282.8" font-size="8.95" font-weight="bold" fill="#66b866">RFU 1209</text>
<path d="M102.83 163.1H337.35" stroke="#359640" stroke-width="2"/>
<path d="M437.3 147.8H669.3" stroke="#359640" stroke-width="2"/>
<path d="M102.31 352.5H335.95" stroke="#359640" stroke-width="2"/>
<path d="M436.6 353.8H668.6" stroke="#359640" stroke-width="2"/>
<path d="M102.6 168.79 L104.1 168.61 L105.6 168.44 L107.1 168.28 L108.6 168.13 L110.1 167.99 L111.6 167.87 L113.1 167.76 L114.6 167.66 L116.1 167.56 L117.6 167.48 L119.1 167.41 L120.6 167.34 L122.1 167.29 L123.6 167.24 L125.1 167.2 L126.6 167.16 L128.1 167.14 L129.6 167.12 L131.1 167.1 L132.6 167.1 L134.1 167.09 L135.6 167.1 L137.1 167.1 L138.6 167.11 L140.1 167.13 L141.6 167.14 L143.1 167.16 L144.6 167.19 L146.1 167.21 L147.6 167.24 L149.1 167.27 L150.6 167.3 L152.1 167.32 L153.6 167.35 L155.1 167.38 L156.6 167.41 L158.1 167.44 L159.6 167.46 L161.1 167.49 L162.6 167.51 L164.1 167.53 L165.6 167.54 L167.1 167.55 L168.6 167.56 L170.1 167.57 L171.6 167.56 L173.1 167.56 L174.6 167.55 L176.1 167.53 L177.6 167.5 L179.1 167.47 L180.6 167.43 L182.1 167.39 L183.6 167.33 L185.1 167.27 L186.6 167.2 L188.1 167.11 L189.6 166.98 L191.1 166.79 L192.6 166.54 L194.1 166.21 L195.6 165.79 L197.1 165.25 L198.6 164.58 L200.1 163.78 L201.6 162.82 L203.1 161.69 L204.6 160.37 L206.1 158.85 L207.6 157.11 L209.1 155.15 L210.6 152.94 L212.1 150.47 L213.6 147.73 L215.1 144.75 L216.6 141.57 L218.1 138.22 L219.6 134.74 L221.1 131.16 L222.6 127.52 L224.1 123.85 L225.6 120.19 L227.1 116.58 L228.6 113.05 L230.1 109.63 L231.6 106.31 L233.1 103.11 L234.6 100.02 L236.1 97.05 L237.6 94.21 L239.1 91.5 L240.6 88.93 L242.1 86.49 L243.6 84.19 L245.1 82.01 L246.6 79.97 L248.1 78.04 L249.6 76.23 L251.1 74.54 L252.6 72.95 L254.1 71.46 L255.6 70.06 L257.1 68.76 L258.6 67.54 L260.1 66.41 L261.6 65.35 L263.1 64.37 L264.6 63.45 L266.1 62.59 L267.6 61.79 L269.1 61.05 L270.6 60.35 L272.1 59.69 L273.6 59.07 L275.1 58.48 L276.6 57.92 L278.1 57.38 L279.6 56.86 L281.1 56.36 L282.6 55.86 L284.1 55.38 L285.6 54.9 L287.1 54.44 L288.6 53.99 L290.1 53.55 L291.6 53.13 L293.1 52.71 L294.6 52.31 L296.1 51.92 L297.6 51.54 L299.1 51.17 L300.6 50.81 L302.1 50.47 L303.6 50.13 L305.1 49.81 L306.6 49.5 L308.1 49.2 L309.6 48.92 L311.1 48.64 L312.6 48.38 L314.1 48.13 L315.6 47.89 L317.1 47.67 L318.6 47.45 L320.1 47.25 L321.6 47.06 L323.1 46.89 L324.6 46.72 L326.1 46.57 L327.6 46.43 L329.1 46.3 L330.6 46.18 L332.1 46.08 L333.6 45.98 L335.1 45.9 L336.6 45.84 L337.3 45.81" fill="none" stroke="#ea7272" stroke-width="1.1" stroke-linejoin="round" stroke-linecap="round"/>
<path d="M102.6 169.06 L104.1 168.76 L105.6 168.48 L107.1 168.22 L108.6 167.99 L110.1 167.78 L111.6 167.59 L113.1 167.42 L114.6 167.28 L116.1 167.15 L117.6 167.04 L119.1 166.95 L120.6 166.88 L122.1 166.82 L123.6 166.77 L125.1 166.74 L126.6 166.73 L128.1 166.72 L129.6 166.73 L131.1 166.75 L132.6 166.78 L134.1 166.82 L135.6 166.86 L137.1 166.92 L138.6 166.98 L140.1 167.04 L141.6 167.11 L143.1 167.19 L144.6 167.26 L146.1 167.34 L147.6 167.42 L149.1 167.51 L150.6 167.59 L152.1 167.67 L153.6 167.75 L155.1 167.82 L156.6 167.9 L158.1 167.96 L159.6 168.03 L161.1 168.08 L162.6 168.13 L164.1 168.17 L165.6 168.21 L167.1 168.23 L168.6 168.24 L170.1 168.25 L171.6 168.24 L173.1 168.21 L174.6 168.18 L176.1 168.13 L177.6 168.06 L179.1 167.98 L180.6 167.88 L182.1 167.76 L183.6 167.62 L185.1 167.46 L186.6 167.29 L188.1 167.08 L189.6 166.84 L191.1 166.57 L192.6 166.25 L194.1 165.87 L195.6 165.44 L197.1 164.94 L198.6 164.36 L200.1 163.71 L201.6 162.97 L203.1 162.14 L204.6 161.22 L206.1 160.18 L207.6 159.05 L209.1 157.82 L210.6 156.51 L212.1 155.13 L213.6 153.68 L215.1 152.16 L216.6 150.6 L218.1 148.99 L219.6 147.36 L221.1 145.69 L222.6 144.01 L224.1 142.32 L225.6 140.62 L227.1 138.94 L228.6 137.27 L230.1 135.63 L231.6 134.02 L233.1 132.45 L234.6 130.93 L236.1 129.47 L237.6 128.07 L239.1 126.72 L240.6 125.43 L242.1 124.2 L243.6 123.01 L245.1 121.88 L246.6 120.8 L248.1 119.77 L249.6 118.79 L251.1 117.85 L252.6 116.95 L254.1 116.1 L255.6 115.29 L257.1 114.52 L258.6 113.78 L260.1 113.08 L261.6 112.42 L263.1 111.79 L264.6 111.19 L266.1 110.62 L267.6 110.08 L269.1 109.57 L270.6 109.08 L272.1 108.62 L273.6 108.18 L275.1 107.76 L276.6 107.37 L278.1 106.98 L279.6 106.62 L281.1 106.27 L282.6 105.94 L284.1 105.62 L285.6 105.31 L287.1 105.02 L288.6 104.74 L290.1 104.47 L291.6 104.22 L293.1 103.97 L294.6 103.74 L296.1 103.52 L297.6 103.3 L299.1 103.1 L300.6 102.9 L302.1 102.71 L303.6 102.53 L305.1 102.36 L306.6 102.19 L308.1 102.03 L309.6 101.87 L311.1 101.72 L312.6 101.58 L314.1 101.44 L315.6 101.3 L317.1 101.16 L318.6 101.03 L320.1 100.89 L321.6 100.76 L323.1 100.63 L324.6 100.5 L326.1 100.37 L327.6 100.24 L329.1 100.11 L330.6 99.98 L332.1 99.84 L333.6 99.7 L335.1 99.56 L336.6 99.42 L337.8 99.3" fill="none" stroke="#616de0" stroke-width="1.1" stroke-linejoin="round" stroke-linecap="round"/>
<path d="M102.6 168.78 L104.1 168.49 L105.6 168.23 L107.1 168 L108.6 167.79 L110.1 167.61 L111.6 167.45 L113.1 167.32 L114.6 167.2 L116.1 167.11 L117.6 167.04 L119.1 166.98 L120.6 166.94 L122.1 166.92 L123.6 166.91 L125.1 166.91 L126.6 166.93 L128.1 166.96 L129.6 167 L131.1 167.05 L132.6 167.11 L134.1 167.18 L135.6 167.25 L137.1 167.33 L138.6 167.42 L140.1 167.5 L141.6 167.59 L143.1 167.68 L144.6 167.77 L146.1 167.86 L147.6 167.95 L149.1 168.03 L150.6 168.11 L152.1 168.19 L153.6 168.26 L155.1 168.32 L156.6 168.37 L158.1 168.42 L159.6 168.45 L161.1 168.47 L162.6 168.48 L164.1 168.48 L165.6 168.46 L167.1 168.43 L168.6 168.38 L170.1 168.32 L171.6 168.25 L173.1 168.15 L174.6 168.04 L176.1 167.92 L177.6 167.77 L179.1 167.61 L180.6 167.43 L182.1 167.23 L183.6 167.02 L185.1 166.78 L186.6 166.52 L188.1 166.24 L189.6 165.94 L191.1 165.62 L192.6 165.27 L194.1 164.9 L195.6 164.51 L197.1 164.1 L198.6 163.66 L200.1 163.19 L201.6 162.7 L203.1 162.19 L204.6 161.65 L206.1 161.08 L207.6 160.5 L209.1 159.89 L210.6 159.27 L212.1 158.62 L213.6 157.97 L215.1 157.31 L216.6 156.63 L218.1 155.95 L219.6 155.26 L221.1 154.57 L222.6 153.87 L224.1 153.18 L225.6 152.49 L227.1 151.81 L228.6 151.13 L230.1 150.46 L231.6 149.8 L233.1 149.16 L234.6 148.53 L236.1 147.92 L237.6 147.33 L239.1 146.75 L240.6 146.2 L242.1 145.66 L243.6 145.14 L245.1 144.63 L246.6 144.15 L248.1 143.68 L249.6 143.22 L251.1 142.78 L252.6 142.36 L254.1 141.96 L255.6 141.56 L257.1 141.19 L258.6 140.82 L260.1 140.48 L261.6 140.14 L263.1 139.82 L264.6 139.51 L266.1 139.22 L267.6 138.93 L269.1 138.66 L270.6 138.41 L272.1 138.16 L273.6 137.92 L275.1 137.7 L276.6 137.48 L278.1 137.28 L279.6 137.09 L281.1 136.9 L282.6 136.73 L284.1 136.56 L285.6 136.41 L287.1 136.26 L288.6 136.12 L290.1 135.98 L291.6 135.86 L293.1 135.74 L294.6 135.63 L296.1 135.52 L297.6 135.43 L299.1 135.33 L300.6 135.24 L302.1 135.16 L303.6 135.09 L305.1 135.01 L306.6 134.94 L308.1 134.88 L309.6 134.82 L311.1 134.76 L312.6 134.71 L314.1 134.66 L315.6 134.61 L317.1 134.56 L318.6 134.51 L320.1 134.47 L321.6 134.43 L323.1 134.39 L324.6 134.34 L326.1 134.3 L327.6 134.26 L329.1 134.22 L330.6 134.18 L332.1 134.13 L333.6 134.09 L335.1 134.04 L336.6 133.99 L337.8 133.95" fill="none" stroke="#58e686" stroke-width="1.1" stroke-linejoin="round" stroke-linecap="round"/>
<path d="M437.3 167.4 L469.3 168.2 L509.3 168.3 L517.3 166.8 L525.3 162.9 L533.3 148.4 L541.3 119 L549.3 88.3 L557.3 69.5 L565.3 60.6 L573.3 55.5 L581.3 52.2 L589.3 50 L597.3 48.5 L605.3 47.4 L621.3 46.1 L645.3 45.2 L669.3 44.7" fill="none" stroke="#ea7272" stroke-width="1.1" stroke-linejoin="round" stroke-linecap="round"/>
<path d="M437.3 167.4 L469.3 168.2 L509.3 168.3 L517.3 166.8 L525.3 162.9 L533.3 148.4 L541.3 128.5 L549.3 108.3 L557.3 101.4 L565.3 96.8 L573.3 93.7 L581.3 91.5 L589.3 89.9 L605.3 88 L637.3 86.6 L669.3 85.8" fill="none" stroke="#616de0" stroke-width="1.1" stroke-linejoin="round" stroke-linecap="round"/>
<path d="M437.3 167.4 L469.3 168.2 L509.3 168.4 L517.3 167.3 L525.3 164.2 L533.3 156 L541.3 142 L549.3 132.2 L557.3 127.7 L565.3 125.1 L573.3 123.2 L581.3 121.8 L589.3 120.7 L605.3 119.6 L637.3 119 L669.3 118.6" fill="none" stroke="#58e686" stroke-width="1.1" stroke-linejoin="round" stroke-linecap="round"/>
<path d="M102.2 363.87 L103.7 363.8 L105.2 363.74 L106.7 363.68 L108.2 363.62 L109.7 363.56 L111.2 363.5 L112.7 363.45 L114.2 363.4 L115.7 363.35 L117.2 363.3 L118.7 363.26 L120.2 363.22 L121.7 363.18 L123.2 363.14 L124.7 363.1 L126.2 363.07 L127.7 363.03 L129.2 363 L130.7 362.97 L132.2 362.94 L133.7 362.92 L135.2 362.89 L136.7 362.87 L138.2 362.85 L139.7 362.83 L141.2 362.81 L142.7 362.79 L144.2 362.78 L145.7 362.76 L147.2 362.75 L148.7 362.74 L150.2 362.73 L151.7 362.72 L153.2 362.71 L154.7 362.7 L156.2 362.7 L157.7 362.69 L159.2 362.69 L160.7 362.69 L162.2 362.69 L163.7 362.69 L165.2 362.69 L166.7 362.69 L168.2 362.69 L169.7 362.7 L171.2 362.7 L172.7 362.71 L174.2 362.71 L175.7 362.72 L177.2 362.73 L178.7 362.73 L180.2 362.74 L181.7 362.75 L183.2 362.76 L184.7 362.77 L186.2 362.78 L187.7 362.79 L189.2 362.8 L190.7 362.82 L192.2 362.83 L193.7 362.84 L195.2 362.85 L196.7 362.87 L198.2 362.87 L199.7 362.87 L201.2 362.85 L202.7 362.8 L204.2 362.73 L205.7 362.63 L207.2 362.49 L208.7 362.31 L210.2 362.07 L211.7 361.79 L213.2 361.44 L214.7 361.04 L216.2 360.56 L217.7 360 L219.2 359.37 L220.7 358.65 L222.2 357.84 L223.7 356.94 L225.2 355.92 L226.7 354.74 L228.2 353.35 L229.7 351.71 L231.2 349.76 L232.7 347.45 L234.2 344.75 L235.7 341.59 L237.2 338.01 L238.7 334.11 L240.2 329.99 L241.7 325.78 L243.2 321.57 L244.7 317.46 L246.2 313.47 L247.7 309.5 L249.2 305.49 L250.7 301.41 L252.2 297.29 L253.7 293.2 L255.2 289.18 L256.7 285.3 L258.2 281.61 L259.7 278.17 L261.2 275 L262.7 272.09 L264.2 269.43 L265.7 266.99 L267.2 264.77 L268.7 262.75 L270.2 260.9 L271.7 259.23 L273.2 257.71 L274.7 256.34 L276.2 255.08 L277.7 253.94 L279.2 252.9 L280.7 251.95 L282.2 251.06 L283.7 250.23 L285.2 249.43 L286.7 248.67 L288.2 247.93 L289.7 247.22 L291.2 246.53 L292.7 245.87 L294.2 245.23 L295.7 244.61 L297.2 244.02 L298.7 243.45 L300.2 242.9 L301.7 242.38 L303.2 241.87 L304.7 241.39 L306.2 240.93 L307.7 240.5 L309.2 240.08 L310.7 239.68 L312.2 239.31 L313.7 238.95 L315.2 238.61 L316.7 238.3 L318.2 238 L319.7 237.72 L321.2 237.46 L322.7 237.22 L324.2 237 L325.7 236.79 L327.2 236.6 L328.7 236.43 L330.2 236.28 L331.7 236.14 L333.2 236.02 L334.7 235.92 L336 235.84" fill="none" stroke="#e06262" stroke-width="1.1" stroke-linejoin="round" stroke-linecap="round"/>
<path d="M102.2 363.91 L103.7 363.75 L105.2 363.6 L106.7 363.46 L108.2 363.33 L109.7 363.21 L111.2 363.11 L112.7 363.02 L114.2 362.93 L115.7 362.86 L117.2 362.79 L118.7 362.73 L120.2 362.69 L121.7 362.65 L123.2 362.62 L124.7 362.59 L126.2 362.57 L127.7 362.56 L129.2 362.56 L130.7 362.56 L132.2 362.56 L133.7 362.57 L135.2 362.59 L136.7 362.61 L138.2 362.63 L139.7 362.66 L141.2 362.69 L142.7 362.72 L144.2 362.75 L145.7 362.79 L147.2 362.82 L148.7 362.86 L150.2 362.9 L151.7 362.94 L153.2 362.98 L154.7 363.01 L156.2 363.05 L157.7 363.08 L159.2 363.12 L160.7 363.15 L162.2 363.17 L163.7 363.2 L165.2 363.22 L166.7 363.24 L168.2 363.25 L169.7 363.26 L171.2 363.26 L172.7 363.26 L174.2 363.25 L175.7 363.23 L177.2 363.21 L178.7 363.18 L180.2 363.15 L181.7 363.1 L183.2 363.05 L184.7 362.99 L186.2 362.92 L187.7 362.84 L189.2 362.75 L190.7 362.65 L192.2 362.53 L193.7 362.41 L195.2 362.28 L196.7 362.13 L198.2 361.95 L199.7 361.72 L201.2 361.43 L202.7 361.05 L204.2 360.58 L205.7 359.99 L207.2 359.28 L208.7 358.41 L210.2 357.38 L211.7 356.17 L213.2 354.75 L214.7 353.13 L216.2 351.27 L217.7 349.16 L219.2 346.79 L220.7 344.14 L222.2 341.21 L223.7 338.03 L225.2 334.62 L226.7 331.03 L228.2 327.26 L229.7 323.36 L231.2 319.35 L232.7 315.26 L234.2 311.11 L235.7 306.94 L237.2 302.77 L238.7 298.63 L240.2 294.53 L241.7 290.51 L243.2 286.57 L244.7 282.75 L246.2 279.07 L247.7 275.55 L249.2 272.2 L250.7 269.06 L252.2 266.12 L253.7 263.39 L255.2 260.86 L256.7 258.51 L258.2 256.34 L259.7 254.33 L261.2 252.49 L262.7 250.8 L264.2 249.26 L265.7 247.85 L267.2 246.57 L268.7 245.41 L270.2 244.36 L271.7 243.41 L273.2 242.55 L274.7 241.78 L276.2 241.09 L277.7 240.47 L279.2 239.9 L280.7 239.39 L282.2 238.93 L283.7 238.5 L285.2 238.09 L286.7 237.71 L288.2 237.35 L289.7 237.01 L291.2 236.69 L292.7 236.39 L294.2 236.1 L295.7 235.84 L297.2 235.58 L298.7 235.35 L300.2 235.12 L301.7 234.91 L303.2 234.71 L304.7 234.52 L306.2 234.34 L307.7 234.17 L309.2 234.01 L310.7 233.85 L312.2 233.7 L313.7 233.56 L315.2 233.42 L316.7 233.28 L318.2 233.14 L319.7 233 L321.2 232.86 L322.7 232.72 L324.2 232.58 L325.7 232.44 L327.2 232.29 L328.7 232.14 L330.2 231.98 L331.7 231.81 L333.2 231.63 L334.7 231.45 L336 231.28" fill="none" stroke="#5866dc" stroke-width="1.1" stroke-linejoin="round" stroke-linecap="round"/>
<path d="M102.2 363.67 L103.7 363.55 L105.2 363.43 L106.7 363.32 L108.2 363.22 L109.7 363.13 L111.2 363.05 L112.7 362.97 L114.2 362.91 L115.7 362.85 L117.2 362.8 L118.7 362.75 L120.2 362.72 L121.7 362.69 L123.2 362.66 L124.7 362.64 L126.2 362.63 L127.7 362.62 L129.2 362.62 L130.7 362.62 L132.2 362.62 L133.7 362.63 L135.2 362.64 L136.7 362.65 L138.2 362.67 L139.7 362.69 L141.2 362.71 L142.7 362.73 L144.2 362.75 L145.7 362.78 L147.2 362.8 L148.7 362.82 L150.2 362.85 L151.7 362.87 L153.2 362.89 L154.7 362.92 L156.2 362.94 L157.7 362.95 L159.2 362.97 L160.7 362.98 L162.2 362.99 L163.7 363 L165.2 363.01 L166.7 363.01 L168.2 363 L169.7 362.99 L171.2 362.98 L172.7 362.96 L174.2 362.93 L175.7 362.9 L177.2 362.87 L178.7 362.82 L180.2 362.77 L181.7 362.71 L183.2 362.65 L184.7 362.57 L186.2 362.49 L187.7 362.4 L189.2 362.3 L190.7 362.19 L192.2 362.07 L193.7 361.92 L195.2 361.74 L196.7 361.52 L198.2 361.25 L199.7 360.92 L201.2 360.52 L202.7 360.04 L204.2 359.48 L205.7 358.81 L207.2 358.04 L208.7 357.16 L210.2 356.15 L211.7 354.98 L213.2 353.61 L214.7 352.02 L216.2 350.17 L217.7 348.03 L219.2 345.57 L220.7 342.77 L222.2 339.67 L223.7 336.33 L225.2 332.79 L226.7 329.09 L228.2 325.29 L229.7 321.43 L231.2 317.55 L232.7 313.7 L234.2 309.9 L235.7 306.21 L237.2 302.66 L238.7 299.28 L240.2 296.05 L241.7 292.97 L243.2 290.04 L244.7 287.26 L246.2 284.62 L247.7 282.13 L249.2 279.78 L250.7 277.58 L252.2 275.52 L253.7 273.6 L255.2 271.84 L256.7 270.21 L258.2 268.71 L259.7 267.34 L261.2 266.07 L262.7 264.9 L264.2 263.81 L265.7 262.8 L267.2 261.85 L268.7 260.95 L270.2 260.12 L271.7 259.34 L273.2 258.61 L274.7 257.93 L276.2 257.29 L277.7 256.69 L279.2 256.13 L280.7 255.61 L282.2 255.12 L283.7 254.66 L285.2 254.23 L286.7 253.82 L288.2 253.43 L289.7 253.05 L291.2 252.7 L292.7 252.36 L294.2 252.04 L295.7 251.73 L297.2 251.44 L298.7 251.17 L300.2 250.9 L301.7 250.65 L303.2 250.42 L304.7 250.19 L306.2 249.98 L307.7 249.78 L309.2 249.59 L310.7 249.41 L312.2 249.24 L313.7 249.07 L315.2 248.91 L316.7 248.76 L318.2 248.62 L319.7 248.48 L321.2 248.35 L322.7 248.23 L324.2 248.1 L325.7 247.98 L327.2 247.87 L328.7 247.75 L330.2 247.64 L331.7 247.52 L333.2 247.41 L334.7 247.3 L336 247.2" fill="none" stroke="#4fdc7a" stroke-width="1.1" stroke-linejoin="round" stroke-linecap="round"/>
<path d="M436.6 360 L468.6 360.7 L508.6 361.4 L516.6 361.4 L524.6 359.9 L532.6 355.4 L540.6 338.5 L548.6 307.5 L556.6 273.3 L564.6 256.1 L572.6 247 L580.6 241.5 L588.6 238.3 L596.6 236.8 L604.6 235.5 L620.6 234 L636.6 232.8 L652.6 231.9 L668.6 231.1" fill="none" stroke="#e06262" stroke-width="1.1" stroke-linejoin="round" stroke-linecap="round"/>
<path d="M436.6 360 L468.6 360.7 L508.6 361.2 L516.6 360.6 L524.6 355.8 L532.6 335.8 L540.6 301 L548.6 275.5 L556.6 259 L564.6 251.6 L572.6 246.5 L580.6 243.8 L588.6 242.6 L604.6 241.2 L636.6 239.6 L668.6 238.2" fill="none" stroke="#5866dc" stroke-width="1.1" stroke-linejoin="round" stroke-linecap="round"/>
<path d="M436.6 360 L468.6 360.7 L508.6 360.9 L516.6 360.4 L524.6 355.8 L532.6 339 L540.6 310 L548.6 286 L556.6 271 L564.6 264.2 L572.6 260.3 L580.6 257.7 L588.6 256.3 L604.6 254.6 L636.6 252.8 L652.6 252 L668.6 252.3" fill="none" stroke="#4fdc7a" stroke-width="1.1" stroke-linejoin="round" stroke-linecap="round"/>
</svg></body></html>
